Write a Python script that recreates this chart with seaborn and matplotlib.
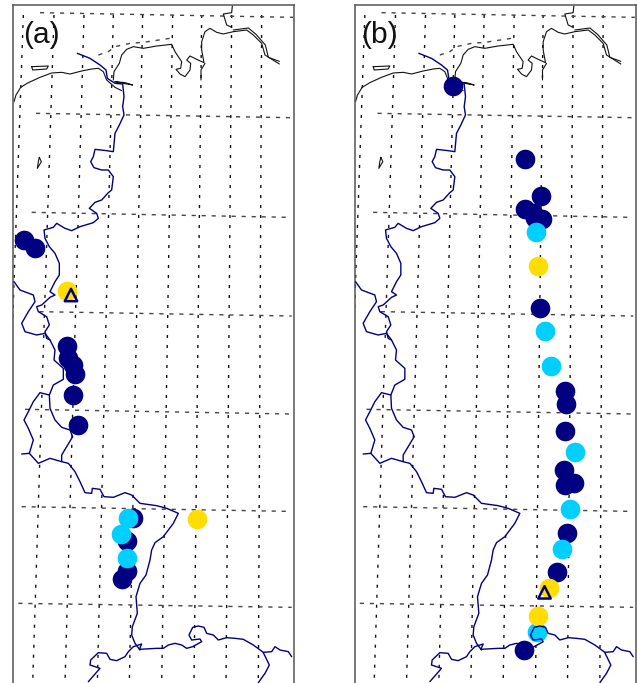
# station map, two panels, map units are 1/3 pixel
import matplotlib
matplotlib.use("Agg")
import matplotlib.pyplot as plt
import seaborn as sns

navy = "#000080"
cyan = "#00cfff"
yellow = "#ffdd00"

# stations panel a
a_navy_x = [73, 105, 202, 205, 220, 224, 219, 234, 398, 382, 382, 365]
a_navy_y = [720, 743, 1038, 1075, 1095, 1123, 1186, 1275, 1555, 1623, 1712, 1737]
a_cyan_x = [383, 364, 381]
a_cyan_y = [1555, 1602, 1675]
a_yellow_x = [201, 590]
a_yellow_y = [873, 1558]
a_tri_x = [213]
a_tri_y = [885]

# stations panel b
b_navy_x = [334, 550, 598, 551, 574, 601, 579, 595, 671, 674, 670, 668, 696, 669, 675, 645, 548]
b_navy_y = [257, 478, 588, 628, 640, 658, 655, 925, 1173, 1212, 1293, 1410, 1450, 1455, 1599, 1715, 1950]
b_cyan_x = [584, 611, 629, 700, 684, 661, 586]
b_cyan_y = [695, 993, 1098, 1355, 1527, 1648, 1896]
b_yellow_x = [588, 623, 590]
b_yellow_y = [799, 1763, 1848]
b_tri_x = [609]
b_tri_y = [1777]

# coast lines
coast_x = [
    [42, 48, 62, 85, 120, 155, 185, 210, 245, 275, 295, 310, 320, 345, 365],
    [340, 342, 358, 365, 380, 400, 430, 470, 515, 525, 545, 542, 528, 540, 555, 570, 572, 560, 570, 590, 612, 605, 605, 615, 630, 650, 670, 700, 740, 760, 785, 795, 838],
    [838, 805, 796, 768, 745, 700],
    [603, 603, 615],
    [697, 695, 670, 680, 695],
    [95, 145, 140, 98, 95],
    [118, 124, 112, 115, 118],
    [345, 375, 398, 370, 345],
]
coast_y = [
    [305, 285, 262, 248, 232, 219, 217, 222, 213, 207, 205, 215, 240, 262, 272],
    [240, 215, 190, 165, 148, 140, 145, 138, 133, 155, 185, 205, 208, 222, 230, 210, 190, 180, 168, 178, 188, 150, 125, 95, 85, 97, 102, 95, 90, 105, 130, 165, 192],
    [184, 172, 135, 103, 84, 90],
    [240, 210, 190],
    [18, 38, 42, 75, 82],
    [200, 198, 207, 210, 200],
    [472, 485, 505, 485, 472],
    [245, 248, 255, 250, 245],
]

# borders and river
border_x = [
    [232, 270, 300, 318, 322, 345, 368, 372, 368, 372, 358, 345, 340, 320, 285, 280, 272, 282, 305, 325, 340, 335, 325, 305, 285, 268, 290, 295, 280, 240, 215, 195, 170, 160, 132, 135, 148, 165, 178, 178, 165, 150, 165, 150, 125, 110, 115, 140, 148, 135, 140, 150, 165, 162, 190, 190, 160, 148, 150, 165, 185, 210, 218, 185, 185, 205, 225, 240, 255, 275, 277, 300, 312, 340, 375, 395, 420, 470, 500, 535, 520, 505, 490, 465, 455, 450, 438, 420, 408, 412, 397, 395, 405, 420],
    [265, 300, 270, 272, 295, 320, 330, 350, 375, 385, 400, 425, 418, 470, 490, 505, 525, 545, 560, 578, 605, 600, 575, 567, 578, 595, 612, 620, 640, 655, 680, 705, 730, 760, 790, 815, 825, 840, 865, 875],
    [790, 808, 795, 775],
    [148, 120, 100, 85, 72, 85, 100, 88, 65],
    [88, 115, 150, 185],
    [42, 60, 100, 105, 85, 65, 75, 110, 135, 150],
]
border_y = [
    [160, 175, 195, 210, 235, 250, 252, 290, 320, 345, 375, 400, 455, 452, 448, 470, 485, 503, 510, 510, 530, 570, 578, 600, 607, 625, 640, 655, 668, 680, 692, 685, 670, 682, 690, 715, 740, 760, 790, 825, 845, 875, 885, 892, 915, 920, 935, 950, 975, 995, 1015, 1020, 1050, 1080, 1105, 1138, 1155, 1185, 1225, 1260, 1282, 1290, 1310, 1365, 1385, 1390, 1415, 1445, 1478, 1480, 1465, 1468, 1490, 1492, 1478, 1485, 1510, 1517, 1525, 1540, 1570, 1590, 1610, 1628, 1650, 1680, 1725, 1750, 1790, 1840, 1880, 1905, 1930, 1950],
    [2045, 2005, 1995, 1980, 1958, 1960, 1978, 1982, 1970, 1955, 1940, 1932, 1948, 1945, 1945, 1935, 1930, 1935, 1945, 1940, 1925, 1917, 1920, 1905, 1882, 1878, 1882, 1900, 1905, 1920, 1913, 1915, 1918, 1935, 1957, 1955, 1940, 1950, 1955, 1970],
    [1958, 1995, 2020, 2048],
    [1185, 1178, 1205, 1235, 1260, 1285, 1320, 1360, 1362],
    [1360, 1390, 1375, 1385],
    [845, 870, 885, 905, 935, 970, 995, 1005, 1000, 1020],
]

# graticule ends
mer_top = [70, 162, 252, 340, 428, 518, 605, 695, 785]
mer_bot = [0, 98, 195, 292, 388, 485, 582, 678, 775]
lat_xl = [120, 108, 95, 118, 75, 65, 55]
lat_xr = [880, 870, 865, 875, 870, 860, 875]
lat_yl = [38, 340, 637, 935, 1228, 1520, 1810]
lat_yr = [52, 353, 652, 948, 1242, 1534, 1822]
piece_x = [295, 325, 345, 390, 430, 510]
piece_y = [165, 155, 140, 130, 127, 115]

sns.set_style("white")
plt.rcParams["font.family"] = ["Liberation Sans", "DejaVu Sans"]

W, H = 1911.0, 2049.0
f = plt.figure(figsize=(6.37, 6.83), dpi=100)
ax_a = f.add_axes([40 / W, 0, 842 / W, 1 - 16 / H])
ax_b = f.add_axes([(40 + 1024.5) / W, 0, 842 / W, 1 - 16 / H])


def line(ax, x, y, color, lw, z, dash=None):
    l = sns.lineplot(x=x, y=y, ax=ax, color=color, sort=False, estimator=None,
                     errorbar=None, legend=False, zorder=z)
    l.lines[-1].set_linewidth(lw)
    if dash:
        l.lines[-1].set_linestyle((0, dash))


def base_map(ax):
    # meridians and parallels
    for t, b in zip(mer_top, mer_bot):
        line(ax, [t, b], [45, 2049], "#111111", 1.0, 1, (2.2, 5))
    for xl, xr, yl, yr in zip(lat_xl, lat_xr, lat_yl, lat_yr):
        line(ax, [xl, xr], [yl, yr], "#444444", 1.0, 1, (3, 4.2))
    line(ax, piece_x, piece_y, "#444444", 1.0, 1, (3, 4.2))
    for x, y in zip(coast_x, coast_y):
        line(ax, x, y, "#111111", 0.8, 1.5)
    for x, y in zip(border_x, border_y):
        line(ax, x, y, navy, 1.0, 3)


def stations(ax, nx, ny, cx, cy, yx, yy, tx, ty):
    sns.scatterplot(x=nx, y=ny, ax=ax, color=navy, s=200, linewidth=0, zorder=2, legend=False)
    sns.scatterplot(x=cx, y=cy, ax=ax, color=cyan, s=200, linewidth=0, zorder=2.1, legend=False)
    sns.scatterplot(x=yx, y=yy, ax=ax, color=yellow, s=200, linewidth=0, zorder=2.2, legend=False)
    sns.scatterplot(x=tx, y=ty, ax=ax, marker="^", s=80, facecolor="none", edgecolor=navy,
                    linewidth=1.8, zorder=4, legend=False)


for ax, label, lx in [(ax_a, "(a)", 70), (ax_b, "(b)", 60)]:
    base_map(ax)
    ax.text(lx, 128, label, fontsize=21.5, color="#111111", zorder=5)

stations(ax_a, a_navy_x, a_navy_y, a_cyan_x, a_cyan_y, a_yellow_x, a_yellow_y, a_tri_x, a_tri_y)
stations(ax_b, b_navy_x, b_navy_y, b_cyan_x, b_cyan_y, b_yellow_x, b_yellow_y, b_tri_x, b_tri_y)

for ax in [ax_a, ax_b]:
    ax.set_xlim(40, 882)
    ax.set_ylim(2049, 16)
    ax.set_xticks([])
    ax.set_yticks([])
    ax.set(xlabel="", ylabel="")
    for s in ["left", "right", "top"]:
        ax.spines[s].set_color("#555555")
        ax.spines[s].set_linewidth(1.1)
    ax.spines["bottom"].set_visible(False)

plt.savefig("out.png", dpi=100)
